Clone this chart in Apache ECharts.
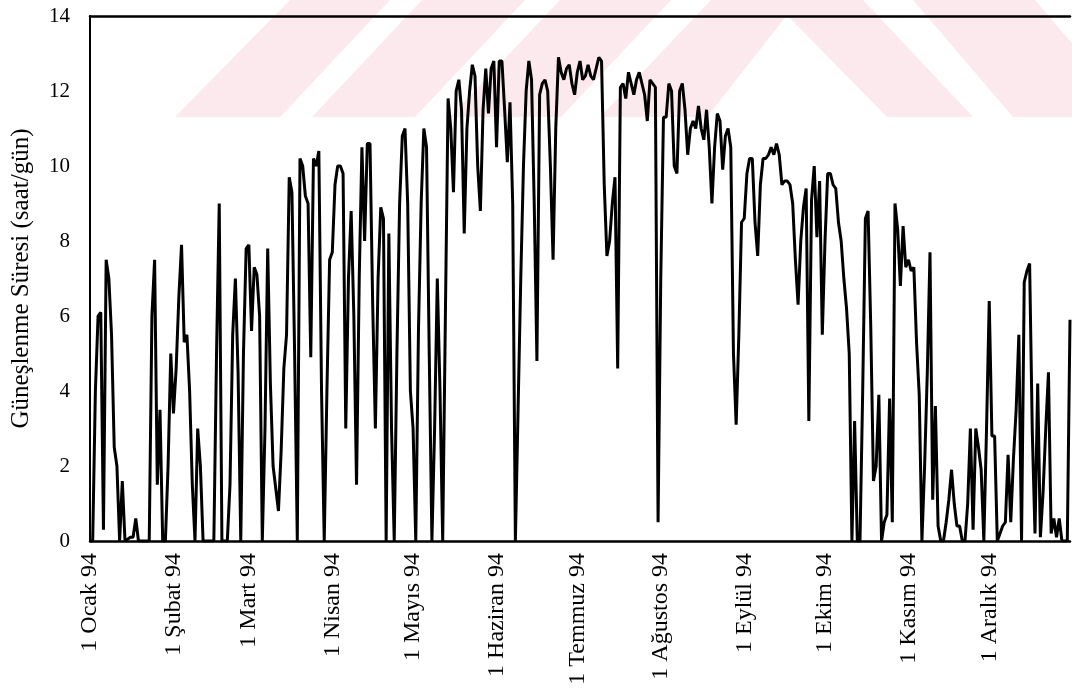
<!DOCTYPE html>
<html>
<head>
<meta charset="utf-8">
<script src="https://cdn.jsdelivr.net/npm/echarts@6/dist/echarts.min.js"></script>
<style>
html,body{margin:0;padding:0;background:#fff;}
#chart{width:1072px;height:693px;}
</style>
</head>
<body>
<div id="chart"></div>
<script>
// Daily sunshine duration (saat/gün), 1994
const jan = [0,0,4.0,6.0,6.1,0.3,7.5,7.0,5.5,2.5,2.0,0,1.6,0,0.05,0.1,0.1,0.6,0,0,0,0,0,6.0,7.5,1.5,3.5,0,0,2.0,5.0];
const feb = [3.4,4.6,6.5,7.9,5.3,5.5,4.0,1.5,0,3.0,2.0,0,0,0,0,0,5.0,9.0,0,0,0,1.5,5.5,7.0,4.5,0,5.0,7.8];
const mar = [7.9,5.6,7.3,7.1,6.0,0,3.0,7.8,4.2,2.0,1.4,0.8,2.4,4.6,5.5,9.7,9.3,5.0,0,10.2,10.0,9.2,9.0,4.9,10.2,10.0,10.4,4.0,0,4.0,7.5];
const apr = [7.7,9.5,10.0,10.0,9.8,3.0,7.0,8.8,6.0,1.5,7.0,10.5,8.0,10.6,10.6,6.3,3.0,7.0,8.9,8.6,0,8.2,3.0,0,5.0,9.0,10.8,11.0,9.0,4.0];
const may = [3.0,0,5.6,9.0,11.0,10.5,5.0,0,3.0,7.0,4.0,0,6.0,11.8,11.0,9.3,12.0,12.3,11.5,8.2,11.0,12.0,12.7,12.4,10.0,8.8,11.5,12.6,11.4,12.6,12.8];
const jun = [10.5,12.8,12.8,11.5,10.1,11.7,9.0,0,3.5,7.0,10.0,12.0,12.8,12.3,9.0,4.8,11.9,12.2,12.3,12.0,10.0,7.5,11.0,12.9,12.5,12.3,12.6,12.7,12.2,11.9];
const jul = [12.5,12.8,12.3,12.4,12.7,12.4,12.3,12.6,12.9,12.8,9.5,7.6,8.0,9.0,9.7,4.6,12.1,12.2,11.8,12.5,12.2,11.9,12.3,12.5,12.2,11.9,11.2,12.3,12.2,12.1,0.5];
const aug = [7.0,11.3,11.3,12.2,12.0,10.0,9.8,12.0,12.2,11.5,10.3,11.0,11.2,11.0,11.6,11.0,10.7,11.5,10.5,9.0,10.5,11.4,11.2,9.9,10.8,11.0,10.5,5.0,3.1,5.5,8.5];
const sep = [8.6,9.8,10.2,10.2,8.5,7.6,9.5,10.2,10.2,10.3,10.5,10.3,10.6,10.3,9.5,9.6,9.6,9.5,9.0,7.5,6.3,8.0,8.9,9.4,3.2,9.1,10.0,8.1,9.6,5.5];
const oct = [8.0,9.8,9.8,9.5,9.4,8.5,8.0,7.0,6.2,5.0,0,3.2,0,0,4.0,8.6,8.8,5.7,1.6,2.0,3.9,0,0.5,0.7,3.8,0.5,9.0,8.3,6.8,8.4,7.3];
const nov = [7.5,7.2,7.3,5.3,3.9,0,2.0,4.5,7.7,1.1,3.6,0.4,0,0,0.5,1.1,1.9,1.0,0.4,0.4,0,0,1.0,3.0,0.3,3.0,2.5,1.9,0,3.0];
const dec = [6.4,2.8,2.8,0,0.2,0.4,0.5,2.3,0.5,2.2,3.5,5.5,0,6.9,7.2,7.4,2.9,0.2,4.2,0.1,1.3,3.0,4.5,0.2,0.6,0.1,0.6,0,0,0,5.9];

const months = [jan, feb, mar, apr, may, jun, jul, aug, sep, oct, nov, dec];
const monthLabels = ['1 Ocak 94','1 Şubat 94','1 Mart 94','1 Nisan 94','1 Mayıs 94','1 Haziran 94','1 Temmuz 94','1 Ağustos 94','1 Eylül 94','1 Ekim 94','1 Kasım 94','1 Aralık 94'];
const yMin = 0, yMax = 14, yStep = 2;
const yName = 'Güneşlenme Süresi (saat/gün)';

const values = [].concat(...months);
const categories = [];
const labelAt = {};
months.forEach((m, mi) => {
  m.forEach((v, di) => {
    const idx = categories.length;
    if (di === 0) labelAt[idx] = monthLabels[mi];
    categories.push('g' + idx);
  });
});

const FONT = 'Liberation Serif';
const PINK = '#fce9ed';
// decorative background watermark (pink chevron stripes)
const wm = [
  [[600,117],[711,0],[863,0],[973,117],[887,117],[787,15],[707,117]],
  [[450,117],[561,117],[671,0],[560,0]],
  [[1013,117],[1135,117],[1035,0],[913,0]],
  [[312,117],[415,117],[525,0],[422,0]],
  [[175,117],[280,117],[390,0],[290,0]]
];

const chart = echarts.init(document.getElementById('chart'), null, {renderer: 'canvas'});
chart.setOption({
  animation: false,
  backgroundColor: '#fff',
  graphic: {
    elements: wm.map(p => ({type: 'polygon', shape: {points: p}, style: {fill: PINK}, silent: true, z: -10}))
  },
  grid: {left: 90, right: 2, top: 16, bottom: 152, containLabel: false},
  xAxis: [{
    type: 'category',
    data: categories,
    boundaryGap: false,
    axisLine: {lineStyle: {color: '#000', width: 2.5}},
    axisTick: {show: false},
    splitLine: {show: false},
    axisLabel: {
      interval: (i) => labelAt[i] !== undefined,
      formatter: (v, i) => labelAt[i] || '',
      rotate: 90,
      margin: 12,
      color: '#000',
      fontFamily: FONT,
      fontSize: 24
    }
  }, {
    type: 'category',
    data: categories,
    position: 'top',
    boundaryGap: false,
    axisLine: {lineStyle: {color: '#000', width: 2.5}},
    axisTick: {show: false},
    axisLabel: {show: false},
    splitLine: {show: false}
  }],
  yAxis: {
    type: 'value',
    min: yMin, max: yMax, interval: yStep,
    name: yName,
    nameLocation: 'middle',
    nameRotate: 90,
    nameGap: 56,
    nameTextStyle: {color: '#000', fontFamily: FONT, fontSize: 25},
    axisLine: {show: true, lineStyle: {color: '#000', width: 2}},
    axisTick: {show: false},
    splitLine: {show: false},
    axisLabel: {margin: 20, color: '#000', fontFamily: FONT, fontSize: 21}
  },
  series: [{
    type: 'line',
    data: values,
    symbol: 'none',
    lineStyle: {color: '#000', width: 3},
    z: 3
  }]
});
</script>
</body>
</html>
